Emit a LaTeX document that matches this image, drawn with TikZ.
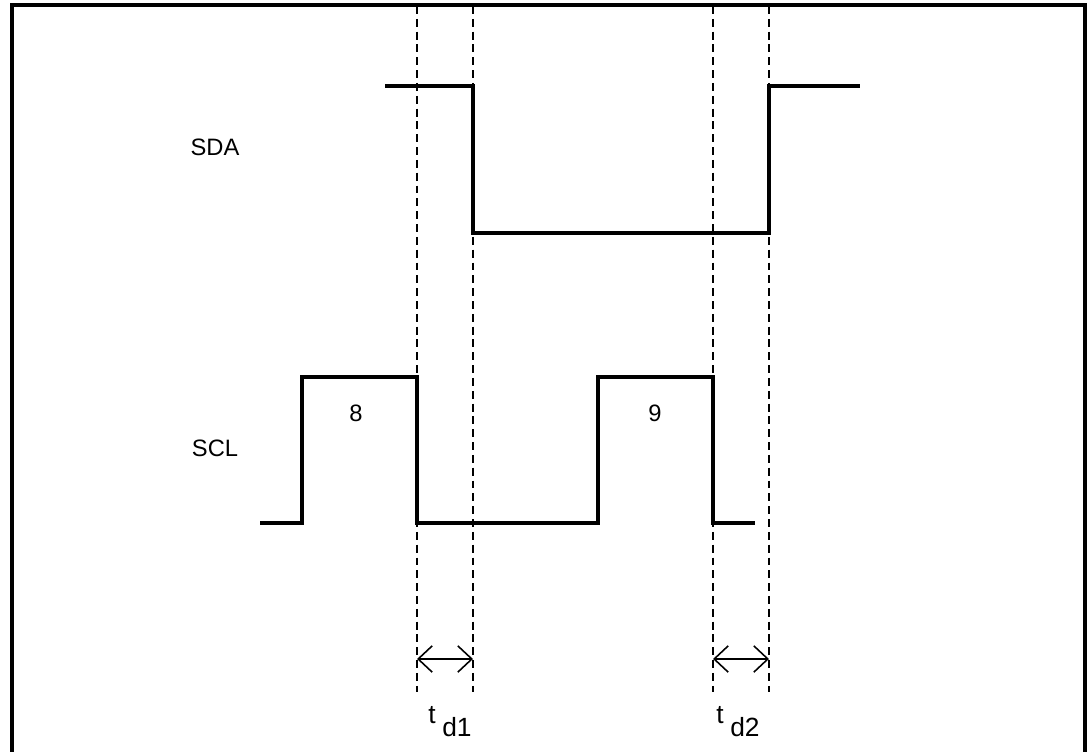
\documentclass[tikz,border=0pt]{standalone}
\usepackage{fontspec}
\setmainfont{Liberation Sans}
\usetikzlibrary{arrows.meta}
\tikzset{
  wave/.style={line width=2pt, line join=miter},
  guide/.style={line width=0.7pt, dash pattern=on 4.5pt off 2.8pt},
  lbl/.style={font=\fontsize{13.5}{16}\selectfont, inner sep=0pt},
  dlbl/.style={font=\fontsize{15}{18}\selectfont, inner sep=0pt},
  span/.style={line width=0.9pt, {Straight Barb[length=8pt,width=15pt,line width=0.9pt]}-{Straight Barb[length=8pt,width=15pt,line width=0.9pt]}}
}
\begin{document}
\begin{tikzpicture}[x=0.02cm, y=-0.02cm]
            \useasboundingbox (0,0) rectangle (1087,751);
            % frame
            \draw[line width=1.8pt] (12,760) -- (12,5) -- (1085,5) -- (1085,760);
            % guides
            \foreach \gx in {417,473,713,769}
              \draw[guide] (\gx,6) -- (\gx,692);
            % SDA
            \draw[wave] (385,86) -- (473,86) -- (473,233) -- (769,233) -- (769,86) -- (860,86);
            % SCL
            \draw[wave] (260,523) -- (302,523) -- (302,377) -- (417,377) -- (417,523)
              -- (598,523) -- (598,377) -- (713,377) -- (713,523) -- (755,523);
            \node[lbl] (sda) at (215,147) {SDA};
            \node[lbl] (scl) at (215,448) {SCL};
            \node[lbl] (p8) at (356,413) {8};
            \node[lbl] (p9) at (655,413) {9};
            % delays
            \coordinate (a1) at (417,659);
            \coordinate (b1) at (473,659);
            \coordinate (a2) at (713,659);
            \coordinate (b2) at (769,659);
            \draw[span] (a1) -- (b1);
            \draw[span] (a2) -- (b2);
            \node[dlbl, anchor=base west] (td1) at (428,723) {t\hspace{0.25em}\raisebox{-0.52em}{d1}};
            \node[dlbl, anchor=base west] (td2) at (716,723) {t\hspace{0.25em}\raisebox{-0.52em}{d2}};
          \end{tikzpicture}
\end{document}
